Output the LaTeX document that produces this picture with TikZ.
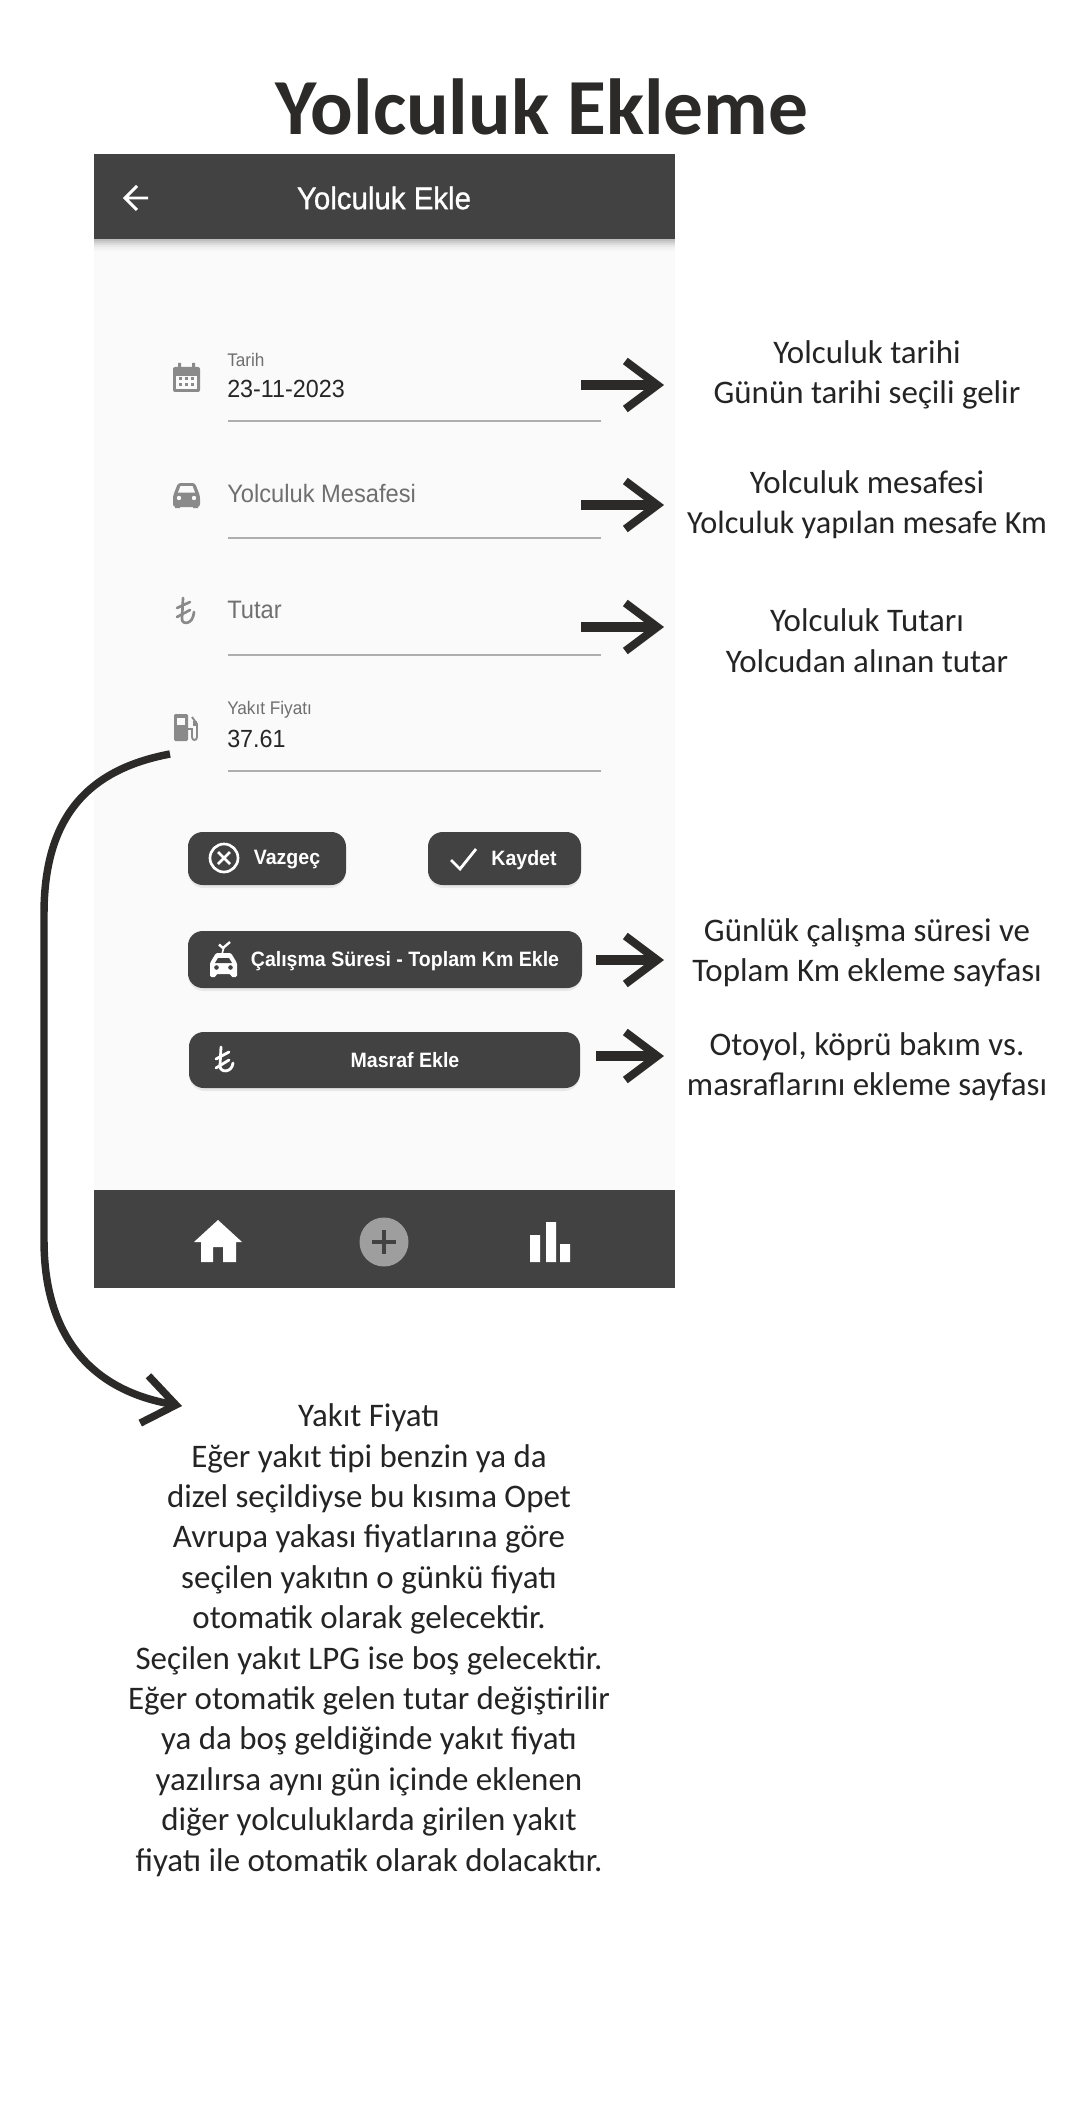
\documentclass[tikz,border=0pt]{standalone}
\usepackage{fontspec}
\usetikzlibrary{arrows.meta,calc}
\setmainfont{Carlito}
\newfontfamily\appf{Liberation Sans}[FakeStretch=0.94]
\newfontfamily\appm{Liberation Sans}[FakeStretch=0.94,FakeBold=0.9]
\definecolor{ink}{HTML}{2B2A29}
\definecolor{body}{HTML}{242424}
\definecolor{bar}{HTML}{424242}
\definecolor{panel}{HTML}{FAFAFA}
\definecolor{iconc}{HTML}{8A8A8A}
\definecolor{rulec}{HTML}{AEAEAE}
\definecolor{hint}{HTML}{6F6F6F}
\tikzset{
  x=0.75pt,y=-0.75pt,
  note/.style={font=\fontsize{24.7}{30.3}\selectfont,text=body,align=center,inner sep=0pt},
  label/.style={font=\appf\fontsize{13.7}{16}\selectfont,text=hint,anchor=west,inner sep=0pt},
  value/.style={font=\appf\fontsize{18.6}{22}\selectfont,text=black!85,anchor=west,inner sep=0pt},
  hintt/.style={font=\appf\fontsize{18.9}{22}\selectfont,text=hint,anchor=west,inner sep=0pt},
  btnt/.style={font=\appf\bfseries\fontsize{15.6}{19}\selectfont,text=white,inner sep=0pt},
  rulel/.style={draw=rulec,line width=1.5pt},
  btn/.style={fill=bar,rounded corners=11pt},
  shade1/.style={fill=black,opacity=0.07,rounded corners=12pt},
  callout/.style={draw=ink,line width=7pt,-{Straight Barb[length=24pt,width=36pt,line width=6pt]}},
  longcallout/.style={draw=ink,line width=5.6pt,-{Straight Barb[length=24pt,width=36pt,line width=5.6pt]}},
  liraline/.style={line width=1.8pt,line cap=round}
}
\begin{document}
\begin{tikzpicture}
\useasboundingbox (0,0) rectangle (1081,2104);
\fill[white] (0,0) rectangle (1081,2104);
% phone
\fill[panel] (94,239) rectangle (675,1190);
\foreach \i/\o in {0/0.24,2/0.18,4/0.12,6/0.07,8/0.04,10/0.02}
  \fill[black,opacity=\o] (94,239+\i) rectangle (675,241+\i);
\fill[bar] (94,154) rectangle (675,239);
\fill[bar] (94,1190) rectangle (675,1288);
\node[font=\fontsize{59.6}{70}\selectfont\bfseries,text=ink,inner sep=0pt] (title) at (542,107) {Yolculuk Ekleme};
\node[font=\appm\fontsize{23.5}{28}\selectfont,text=white,inner sep=0pt] (hdr) at (384,198) {Yolculuk Ekle};
% back arrow
\draw[white,line width=2.2pt,line join=miter] (137,186) -- (125,198) -- (137,210) (125,198) -- (148,198);
% fields
\node[label] (l1) at (227,360) {Tarih};
\node[value] (v1) at (227,389) {23-11-2023};
\draw[rulel] (228,421) -- (601,421);
\node[hintt] (v2) at (227,493) {Yolculuk Mesafesi};
\draw[rulel] (228,538) -- (601,538);
\node[hintt] (v3) at (227,610) {Tutar};
\draw[rulel] (228,655) -- (601,655);
\node[label] (l4) at (227,710) {Yakıt Fiyatı};
\node[value] (v4) at (227,739) {37.61};
\draw[rulel] (228,771) -- (601,771);
% calendar icon
\fill[iconc,rounded corners=1.5pt] (173,367) rectangle (200,392);
\fill[iconc] (178,363) rectangle (181,369) (192,363) rectangle (195,369);
\fill[panel] (176,376) rectangle (197,389);
\foreach \x in {180,186,192} \foreach \y in {379,385} \fill[iconc] (\x-1.5,\y-1.5) rectangle (\x+1.5,\y+1.5);
% car icon
\fill[iconc,rounded corners=2pt] (173,496) -- (178,483) -- (195,483) -- (200,496) -- (200,507) -- (173,507) -- cycle;
\fill[iconc] (175,505) rectangle (180,508) (193,505) rectangle (198,508);
\fill[panel] (178,492.5) -- (180.5,486) -- (192.5,486) -- (195,492.5) -- cycle;
\fill[panel] (179,498) circle (2.2) (194,498) circle (2.2);
% lira icon
\draw[iconc,liraline,line width=2pt] (183,598) -- (182,619) .. controls (182,625) and (193,625) .. (194,612);
\draw[iconc,liraline,line width=2pt] (177,608) -- (190,602) (177,617) -- (190,610);
% fuel icon
\fill[iconc,rounded corners=1pt] (174,714) rectangle (188,741);
\fill[panel] (177,717.5) rectangle (185,725);
\draw[iconc,line width=1.4pt] (188,729) -- (192,729) -- (192,737) .. controls (192,741) and (197,741) .. (197,737) -- (197,724) -- (192,717);
\fill[iconc] (193,721) rectangle (197,726);
% buttons
\fill[shade1] (188,834) rectangle (346,888);
\fill[btn] (188,832) rectangle (346,885);
\fill[shade1] (428,834) rectangle (581,888);
\fill[btn] (428,832) rectangle (581,885);
\fill[shade1] (188,933) rectangle (582,991);
\fill[btn] (188,931) rectangle (582,988);
\fill[shade1] (189,1034) rectangle (580,1091);
\fill[btn] (189,1032) rectangle (580,1088);
\draw[white,line width=2pt] (224,858) circle (14);
\draw[white,line width=2pt] (218,852) -- (230,864) (230,852) -- (218,864);
\node[btnt] (b1) at (287,860) {Vazgeç};
\draw[white,line width=2.1pt] (451,860) -- (460,869) -- (476,849);
\node[btnt] (b2) at (524,860) {Kaydet};
% car-check icon
\fill[white,rounded corners=1pt] (210,977) -- (210,963) -- (216,953) -- (231,953) -- (237,963) -- (237,977) -- (231,977) -- (231,974) -- (216,974) -- (216,977) -- cycle;
\fill[bar] (215,963) -- (218,958) -- (229,958) -- (232,963) -- cycle;
\fill[bar] (216.5,967.5) circle (2.3) (230.5,967.5) circle (2.3);
\draw[white,line width=1.2pt] (222,954) -- (224,947);
\draw[white,line width=1.8pt] (219,944.5) -- (223,948) -- (230,942);
\node[btnt,font=\appf\bfseries\fontsize{15.6}{19}\selectfont] (b3) at (405,961) {Çalışma Süresi - Toplam Km Ekle};
\draw[white,liraline,line width=2.1pt] (221,1047) -- (220,1066) .. controls (220,1073) and (232,1073) .. (233,1063);
\draw[white,liraline,line width=2.1pt] (216,1059) -- (229,1052) (216,1068) -- (229,1060);
\node[btnt] (b4) at (405,1060) {Masraf Ekle};
% bottom bar
\fill[white] (218,1220) -- (242,1242) -- (236,1242) -- (236,1262) -- (223,1262) -- (223,1247) -- (213,1247) -- (213,1262) -- (201,1262) -- (201,1242) -- (194,1242) -- cycle;
\fill[black!38] (384,1242) circle (24.5);
\draw[bar,line width=3pt] (372,1242) -- (396,1242) (384,1230) -- (384,1254);
\fill[white] (530,1235) rectangle (540,1262) (546,1222) rectangle (556,1262) (560,1244) rectangle (570,1262);
% notes
\node[note] (n1) at (867,375) {Yolculuk tarihi\\Günün tarihi seçili gelir};
\node[note] (n2) at (867,504.5) {Yolculuk mesafesi\\\fontsize{24.2}{30.3}\selectfont Yolculuk yapılan mesafe Km};
\node[note] (n3) at (867,640.5) {Yolculuk Tutarı\\Yolcudan alınan tutar};
\node[note] (n4) at (867,953) {Günlük çalışma süresi ve\\Toplam Km ekleme sayfası};
\node[note] (n5) at (867,1067) {Otoyol, köprü bakım vs.\\masraflarını ekleme sayfası};
\node[note] (n6) at (369,1640) {Yakıt Fiyatı\\Eğer yakıt tipi benzin ya da\\dizel seçildiyse bu kısıma Opet\\Avrupa yakası fiyatlarına göre\\seçilen yakıtın o günkü fiyatı\\otomatik olarak gelecektir.\\Seçilen yakıt LPG ise boş gelecektir.\\Eğer otomatik gelen tutar değiştirilir\\ya da boş geldiğinde yakıt fiyatı\\yazılırsa aynı gün içinde eklenen\\diğer yolculuklarda girilen yakıt\\fiyatı ile otomatik olarak dolacaktır.};
% connectors
\coordinate (s1) at (581,385); \coordinate (t1) at (664,385);
\coordinate (s2) at (581,505); \coordinate (t2) at (664,505);
\coordinate (s3) at (581,627); \coordinate (t3) at (664,627);
\coordinate (s4) at (596,960); \coordinate (t4) at (664,960);
\coordinate (s5) at (596,1056); \coordinate (t5) at (664,1056);
\draw[callout] (s1) -- (t1);
\draw[callout] (s2) -- (t2);
\draw[callout] (s3) -- (t3);
\draw[callout] (s4) -- (t4);
\draw[callout] (s5) -- (t5);
\coordinate (fs) at (170,754);
\coordinate (fm) at (44,914);
\coordinate (fn) at (44,1240);
\coordinate (ft) at (182,1406);
\draw[longcallout] (fs) .. controls (85,770) and (44,820) .. (fm) -- (fn) .. controls (44,1335) and (90,1390) .. (ft);
\end{tikzpicture}
\end{document}
